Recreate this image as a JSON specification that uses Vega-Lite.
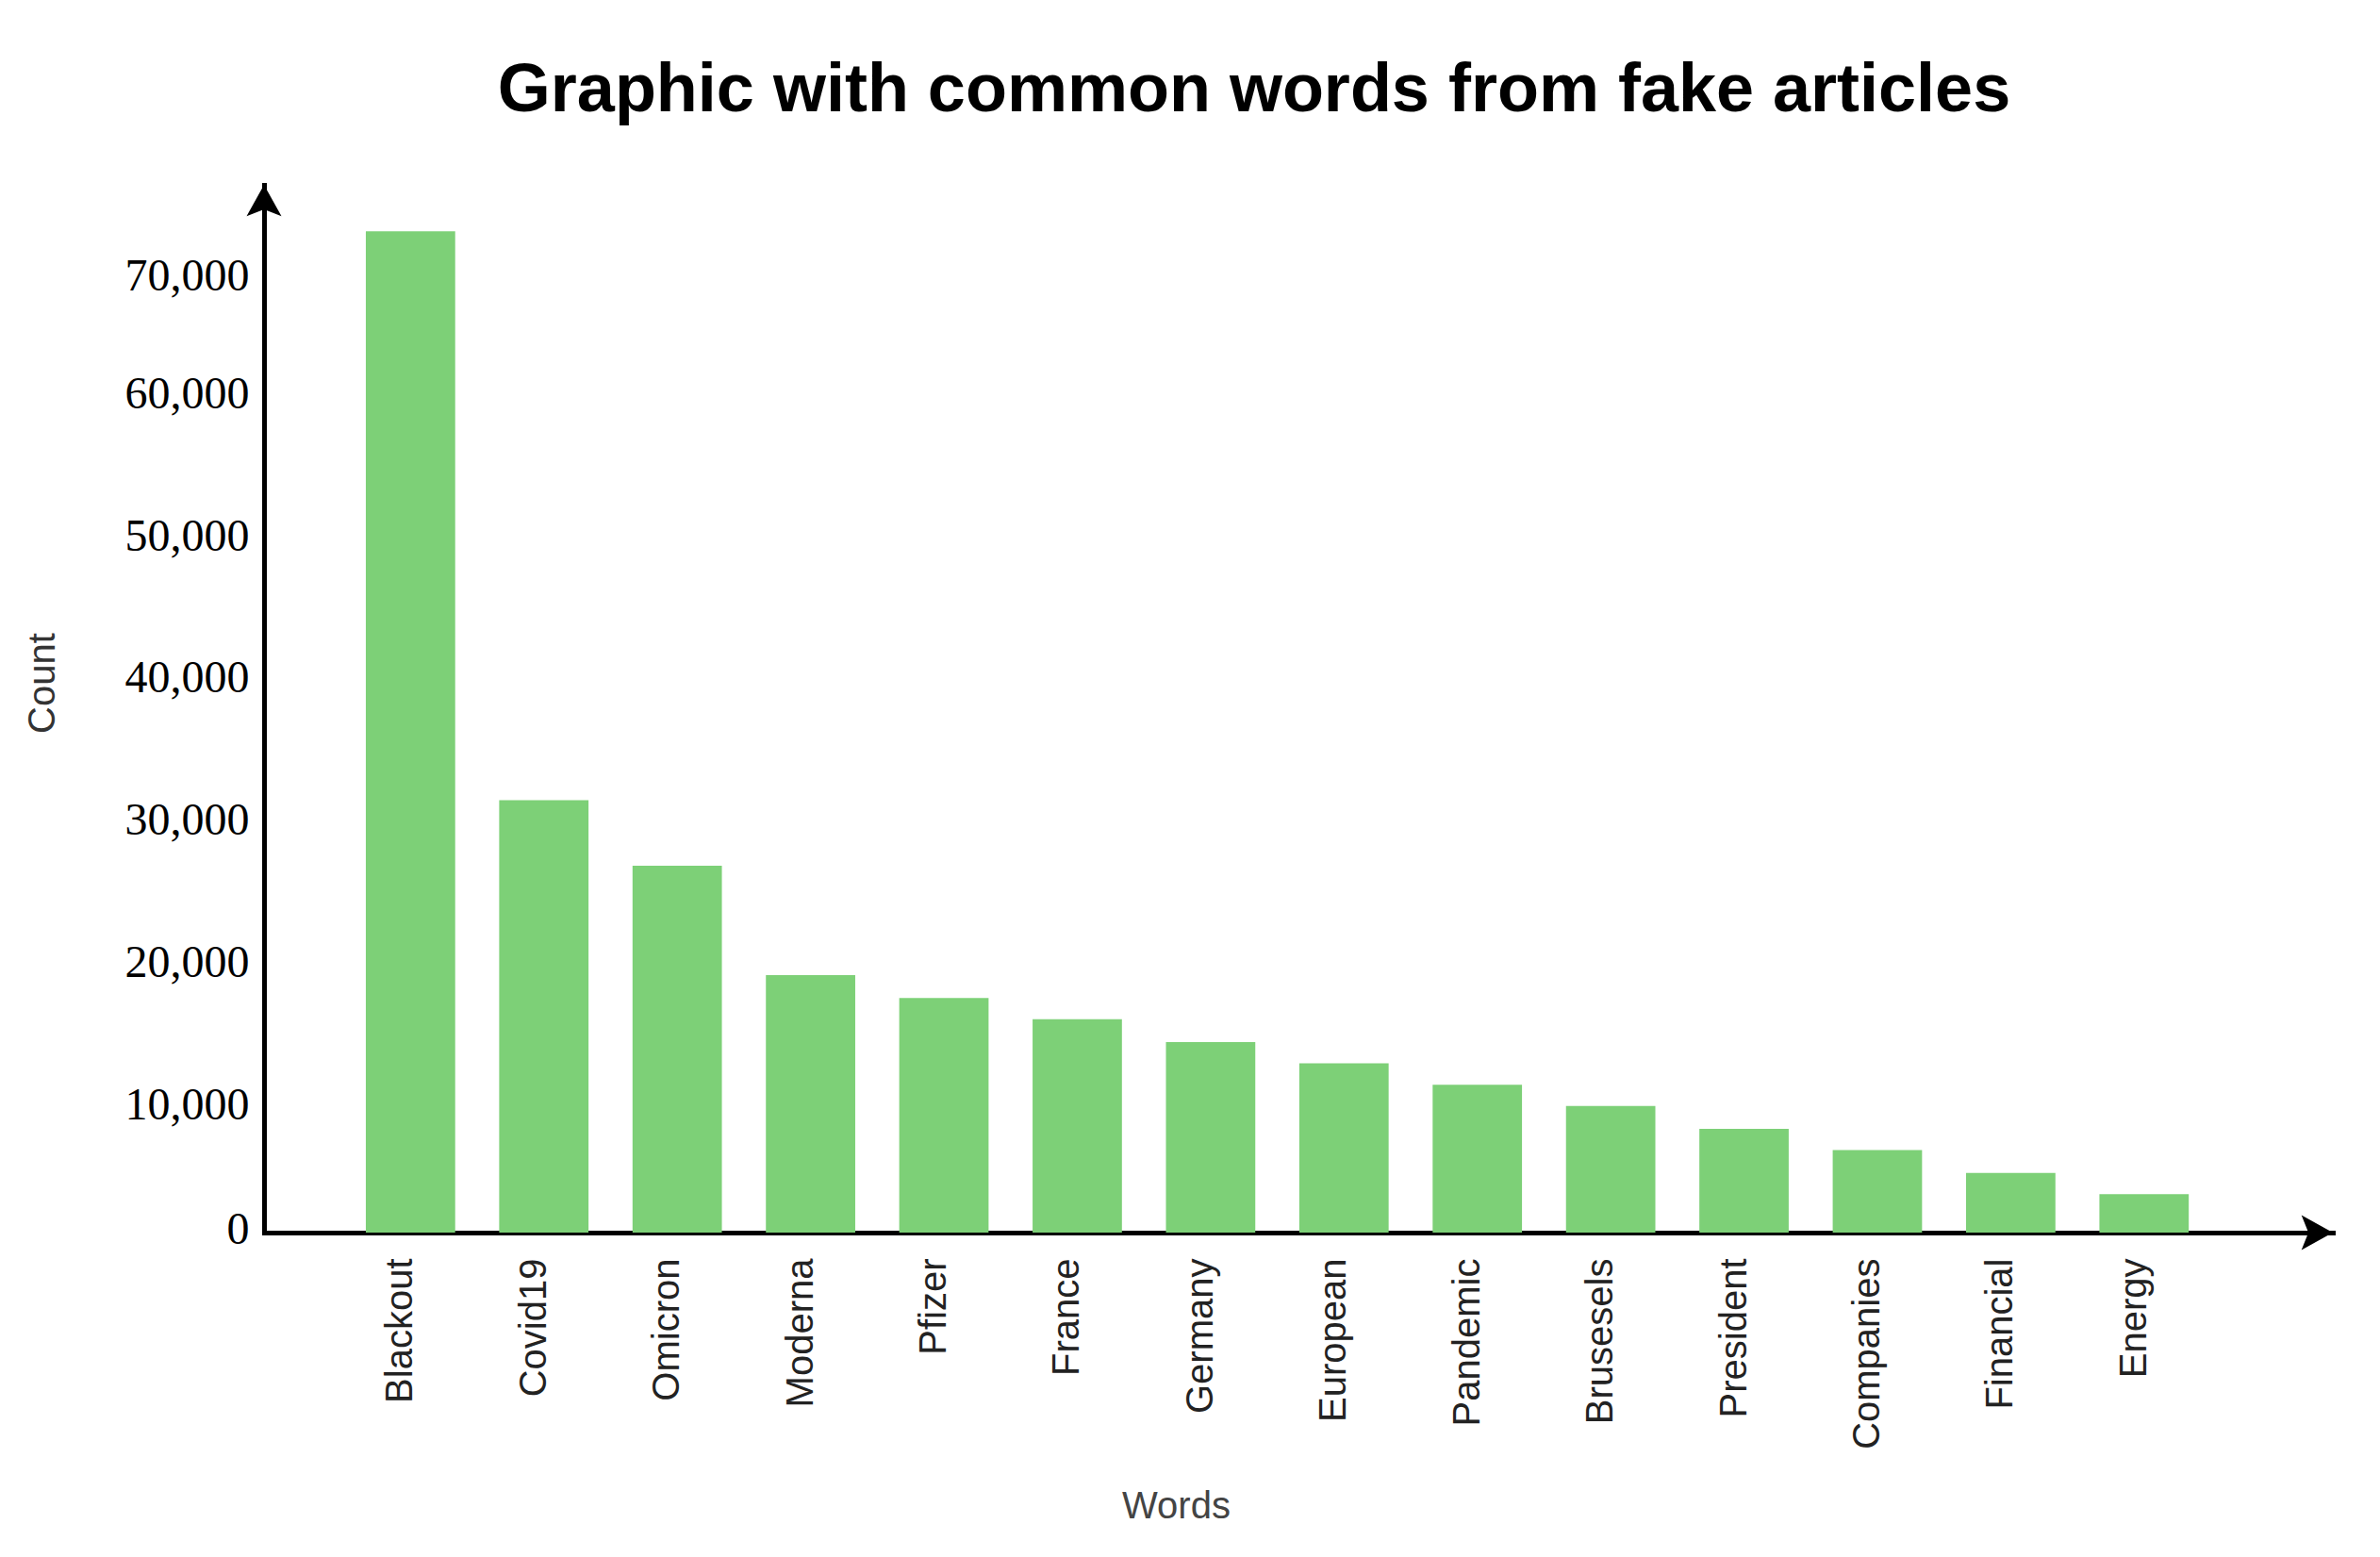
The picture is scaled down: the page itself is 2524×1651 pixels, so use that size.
{
  "$schema": "https://vega.github.io/schema/vega-lite/v6.json",
  "width": 2194,
  "height": 1111,
  "autosize": {"type": "none"},
  "padding": {"left": 280, "top": 196, "right": 50, "bottom": 344},
  "background": "white",
  "config": {"view": {"stroke": null}},
  "title": {
    "text": "Graphic with common words from fake articles",
    "font": "Liberation Sans",
    "fontSize": 72,
    "fontWeight": "bold",
    "color": "black",
    "anchor": "middle",
    "frame": "group",
    "dx": -47,
    "baseline": "alphabetic",
    "offset": 6
  },
  "layer": [
    {
      "data": {
        "values": [
          {"word": "Blackout", "count": 70400},
          {"word": "Covid19", "count": 30400},
          {"word": "Omicron", "count": 25800},
          {"word": "Moderna", "count": 18100},
          {"word": "Pfizer", "count": 16500},
          {"word": "France", "count": 15000},
          {"word": "Germany", "count": 13400},
          {"word": "European", "count": 11900},
          {"word": "Pandemic", "count": 10400},
          {"word": "Brusesels", "count": 8900},
          {"word": "President", "count": 7300},
          {"word": "Companies", "count": 5800},
          {"word": "Financial", "count": 4200},
          {"word": "Energy", "count": 2700}
        ]
      },
      "mark": {"type": "bar", "color": "#7dd077"},
      "encoding": {
        "x": {
          "field": "word",
          "type": "nominal",
          "sort": null,
          "scale": {"paddingInner": 0.33, "paddingOuter": 0.922, "align": 0.414},
          "axis": {
            "title": "Words",
            "domain": true,
            "domainColor": "black",
            "domainWidth": 5,
            "domainCap": "square",
            "ticks": false,
            "tickSize": 0,
            "grid": false,
            "labelAngle": 270,
            "labelLimit": 0,
            "labelFont": "Liberation Sans",
            "labelFontSize": 40,
            "labelColor": "#222",
            "labelPadding": 27,
            "labelOffset": -10,
            "titleFont": "Liberation Sans",
            "titleFontSize": 40,
            "titleFontWeight": "normal",
            "titleColor": "#444",
            "titleX": 967,
            "titleY": 290,
            "titleBaseline": "middle"
          }
        },
        "y": {
          "field": "count",
          "type": "quantitative",
          "scale": {"domain": [0, 73674], "nice": false},
          "axis": {
            "title": "Count",
            "values": [0, 10000, 20000, 30000, 40000, 50000, 60000, 70000],
            "format": ",d",
            "domain": true,
            "domainColor": "black",
            "domainWidth": 5,
            "domainCap": "square",
            "ticks": false,
            "tickSize": 0,
            "grid": false,
            "labelOverlap": false,
            "labelFont": "Liberation Serif",
            "labelFontSize": 48,
            "labelColor": "black",
            "labelPadding": 16,
            "labelOffset": {
              "condition": [
                {"test": "datum.value == 0", "value": -3},
                {"test": "datum.value == 70000", "value": 42}
              ],
              "value": 16
            },
            "titleFont": "Liberation Sans",
            "titleFontSize": 40,
            "titleFontWeight": "normal",
            "titleColor": "#333",
            "titleX": -235,
            "titleY": 528,
            "titleBaseline": "middle"
          }
        }
      }
    },
    {
      "data": {"values": [{"a": 1}]},
      "mark": {
        "type": "point",
        "shape": "M0,-1L1,0.8L0,0.4L-1,0.8Z",
        "filled": true,
        "color": "black",
        "opacity": 1,
        "strokeWidth": 0,
        "size": 1369,
        "yOffset": 18.5
      },
      "encoding": {"x": {"value": 0}, "y": {"value": 0}}
    },
    {
      "data": {"values": [{"a": 1}]},
      "mark": {
        "type": "point",
        "shape": "M1,0L-0.8,-1L-0.4,0L-0.8,1Z",
        "filled": true,
        "color": "black",
        "opacity": 1,
        "strokeWidth": 0,
        "size": 1369,
        "xOffset": -18.5
      },
      "encoding": {"x": {"value": "width"}, "y": {"value": "height"}}
    }
  ]
}
